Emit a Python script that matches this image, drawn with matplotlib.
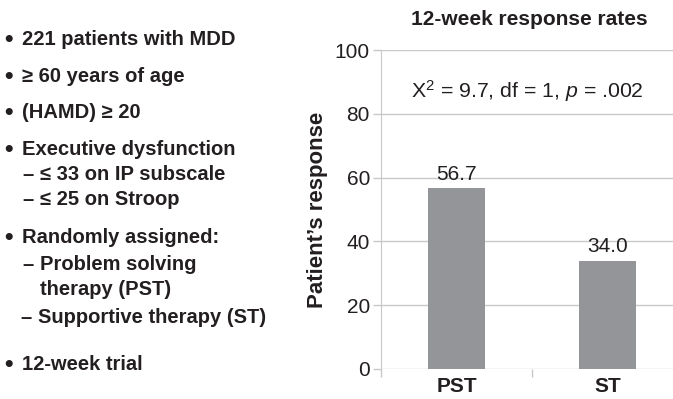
import matplotlib.pyplot as plt
from matplotlib.ticker import FixedLocator

plt.rcParams['font.family'] = ['Liberation Sans', 'DejaVu Sans']

groups = ['PST', 'ST']
response = [56.7, 34.0]
yticks = [0, 20, 40, 60, 80, 100]
title = '12-week response rates'
stat_note = r'X$^2$ = 9.7, df = 1, $p$ = .002'

# study summary shown beside the chart: (bullet, text, indent level)
summary = [
    ('•', '221 patients with MDD', 0),
    ('•', '≥ 60 years of age', 0),
    ('•', '(HAMD) ≥ 20', 0),
    ('•', 'Executive dysfunction', 0),
    ('–', '≤ 33 on IP subscale', 1),
    ('–', '≤ 25 on Stroop', 1),
    ('•', 'Randomly assigned:', 0),
    ('–', 'Problem solving', 1),
    ('', 'therapy (PST)', 1),
    ('–', 'Supportive therapy (ST)', 1),
    ('•', '12-week trial', 0),
]
baselines = [45, 82, 118, 155, 180, 205, 243, 270, 295, 323, 370]

W, H = 673, 399
ink = '#231f20'
bar_col = '#939598'
grid_col = '#c8c8c8'
fs = 14.5

plt.rcParams['mathtext.fontset'] = 'custom'
plt.rcParams['mathtext.rm'] = 'Liberation Sans'
plt.rcParams['mathtext.it'] = 'Liberation Sans:italic'

fig = plt.figure(figsize=(W / 100, H / 100), dpi=100)

def px(x, y):
    return x / W, 1 - y / H

for (mark, txt, lvl), yb in zip(summary, baselines):
    if lvl == 0:
        fig.text(*px(4, yb + 1), mark, fontsize=fs + 3, color=ink,
                 va='baseline', fontweight='bold')
        fig.text(*px(22, yb), txt, fontsize=fs, color=ink,
                 va='baseline', fontweight='bold')
    else:
        dx = 20 if txt.startswith('Supportive') else 22
        if mark:
            fig.text(*px(dx, yb), mark, fontsize=fs, color=ink, va='baseline',
                     fontweight='bold')
        fig.text(*px(dx + 18, yb), txt, fontsize=fs, color=ink,
                 va='baseline', fontweight='bold')

ax_l, ax_r, ax_t, ax_b = 381, 673, 50, 369
ax = fig.add_axes([ax_l / W, 1 - ax_b / H, (ax_r - ax_l) / W, (ax_b - ax_t) / H])

x = range(len(groups))
bars = ax.bar(x, response, width=0.38, color=bar_col, zorder=2)
for xi, v in zip(x, response):
    ax.text(xi, v + 2.7, f'{v:.1f}', ha='center', va='baseline',
            fontsize=fs + 0.5, color=ink)

ax.set_ylim(0, 100)
ax.set_xlim(-0.5, -0.5 + (ax_r - ax_l) / 151)
ax.set_yticks(yticks)
ax.set_yticklabels([str(t) for t in yticks], fontsize=fs + 0.5, color=ink)
ax.yaxis.grid(True, color=grid_col, linewidth=1, zorder=0)
ax.tick_params(axis='y', colors=grid_col, labelcolor=ink,
               length=6, width=1, pad=2)
ax.set_xticks(list(x))
ax.set_xticklabels(groups, fontsize=fs + 0.5, fontweight='bold', color=ink)
ax.tick_params(axis='x', length=0, pad=6)
ax.xaxis.set_minor_locator(FixedLocator([-0.5, 0.5]))
ax.tick_params(axis='x', which='minor', length=6, width=1, color=grid_col)

for side in ['top', 'right', 'bottom']:
    ax.spines[side].set_visible(False)
ax.spines['left'].set_color(grid_col)

ax.set_ylabel("Patient’s response", fontsize=16, fontweight='bold',
              color=ink, labelpad=5)
ax.text(0.47, 87, stat_note, ha='center', va='center', fontsize=fs + 0.8,
        color=ink)
fig.text(*px(529, 25), title, ha='center', va='baseline', fontsize=15,
         fontweight='bold', color=ink)

fig.savefig('out.png', dpi=100)
